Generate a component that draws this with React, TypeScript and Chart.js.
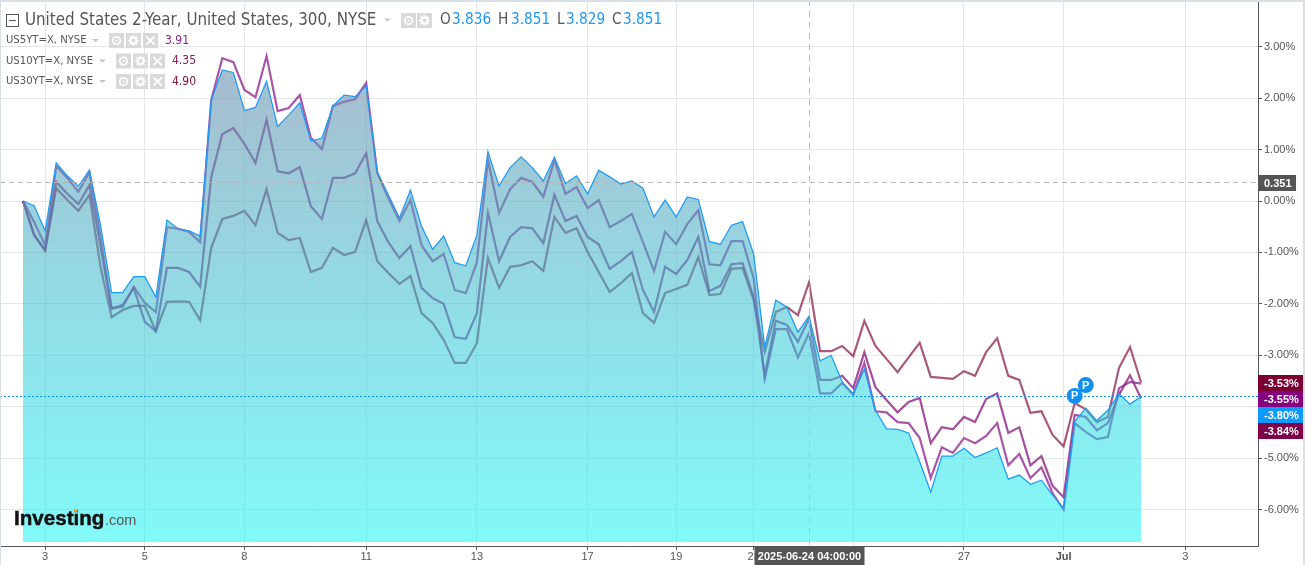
import React, { useEffect, useRef } from "react";
import { Chart, registerables } from "chart.js";

Chart.register(...registerables);

const us2y = [0,-0.09,-0.58,0.74,0.49,0.29,0.60,-0.47,-1.78,-1.78,-1.47,-1.47,-1.87,-0.37,-0.54,-0.58,-0.68,1.96,2.55,2.50,1.76,1.82,2.33,1.45,1.67,1.91,1.17,1.22,1.85,2.06,2.03,2.24,0.57,0.12,-0.33,0.21,-0.49,-0.94,-0.68,-1.20,-1.26,-0.66,0.96,0.29,0.65,0.86,0.65,0.39,0.85,0.34,0.49,0.14,0.60,0.47,0.33,0.39,0.25,-0.31,0.02,-0.31,0.08,0.03,-0.79,-0.84,-0.47,-0.40,-1.03,-2.84,-1.93,-2.06,-2.55,-2.24,-3.11,-3.00,-3.52,-3.75,-3.27,-4.07,-4.43,-4.44,-4.51,-5.07,-5.66,-4.96,-4.96,-4.81,-4.99,-4.90,-4.80,-5.41,-5.33,-5.51,-5.43,-5.72,-5.97,-4.29,-4.03,-4.27,-4.07,-3.75,-3.95,-3.80];
const us5y = [0,-0.41,-0.86,0.68,0.45,0.18,0.56,-0.70,-2.08,-2.06,-1.67,-1.98,-2.16,-0.51,-0.54,-0.60,-0.80,1.96,2.78,2.70,2.16,2.02,2.82,1.75,1.81,2.06,1.23,1.01,1.85,1.93,1.98,2.30,0.54,0.06,-0.39,0.02,-0.86,-1.17,-1.03,-1.73,-1.79,-1.19,0.80,-0.23,0.23,0.45,0.37,0.08,0.80,0.14,0.27,-0.14,0.02,-0.51,-0.39,-0.25,-0.80,-1.36,-0.60,-0.84,-0.45,-0.18,-1.23,-1.25,-0.78,-0.78,-1.50,-3.46,-2.49,-2.49,-3.04,-2.57,-3.74,-3.74,-3.54,-3.77,-3.15,-4.09,-4.11,-4.30,-4.32,-4.61,-5.39,-4.79,-4.90,-4.61,-4.71,-4.57,-4.32,-5.14,-4.92,-5.39,-5.18,-5.68,-6.01,-4.32,-4.49,-4.63,-4.59,-3.64,-3.52,-3.55];
const us10y = [0,-0.66,-0.95,0.37,0.14,-0.06,0.31,-0.89,-2.10,-2.02,-1.69,-2.35,-2.53,-1.30,-1.30,-1.38,-1.67,0.47,1.30,1.42,1.11,0.74,1.58,0.58,0.54,0.66,-0.10,-0.35,0.45,0.45,0.54,0.93,-0.39,-0.80,-1.11,-0.88,-1.69,-1.89,-2.00,-2.65,-2.68,-2.18,-0.23,-1.17,-0.70,-0.51,-0.53,-0.82,0.12,-0.39,-0.29,-0.70,-0.84,-1.32,-1.17,-0.99,-1.73,-2.16,-1.28,-1.42,-1.15,-0.70,-1.75,-1.65,-1.23,-1.21,-1.87,-3.39,-2.33,-2.41,-2.74,-2.28,-3.48,-3.48,-3.40,-3.64,-2.94,-3.62,-3.87,-4.11,-3.91,-3.83,-4.71,-4.40,-4.44,-4.20,-4.30,-3.85,-3.74,-4.51,-4.40,-5.14,-4.96,-5.54,-5.76,-4.16,-4.20,-4.46,-4.32,-3.77,-3.39,-3.84];
const us30y = [0,-0.66,-0.97,0.25,0.02,-0.19,0.12,-1.28,-2.26,-2.12,-2.04,-2.04,-2.53,-1.96,-1.95,-1.96,-2.32,-0.91,-0.35,-0.29,-0.19,-0.47,0.23,-0.62,-0.76,-0.72,-1.38,-1.30,-0.91,-1.05,-0.99,-0.37,-1.17,-1.40,-1.61,-1.46,-2.18,-2.37,-2.70,-3.15,-3.15,-2.76,-1.11,-1.69,-1.28,-1.25,-1.17,-1.36,-0.31,-0.62,-0.53,-0.99,-1.38,-1.77,-1.60,-1.40,-2.18,-2.37,-1.79,-1.71,-1.63,-1.09,-1.83,-1.81,-1.32,-1.30,-1.93,-2.94,-2.16,-2.06,-2.22,-1.58,-2.92,-2.92,-2.82,-3.02,-2.33,-2.82,-3.07,-3.33,-3.04,-2.76,-3.42,-3.44,-3.46,-3.31,-3.40,-2.94,-2.67,-3.40,-3.48,-4.12,-4.09,-4.55,-4.77,-3.93,-4.05,-4.30,-4.20,-3.25,-2.84,-3.53];

const xTickIndex = [2,11,20,31,41,51,59,66,75,85,94,105];
const xTickLabels = ["3","5","8","11","13","17","19","23","25","27","Jul","3"];
const yTicks = [3,2,1,0,-1,-2,-3,-4,-5,-6];

const seriesNames = ["US5YT=X, NYSE","US10YT=X, NYSE","US30YT=X, NYSE"];
const seriesLast = ["3.91","4.35","4.90"];
const title = "United States 2-Year, United States, 300, NYSE";
const ohlcKeys = ["O","H","L","C"];
const ohlcValues = ["3.836","3.851","3.829","3.851"];
const currentLevel = 0.351;
const crosshairIndex = 71;
const crosshairLabel = "2025-06-24 04:00:00";
const priceTags = ["-3.53%","-3.55%","-3.80%","-3.84%"];
const lastChange = -3.8;
const eventMarkers = [[95,-3.79],[96,-3.58]];

const fillBase = -6.63;
const xRange = [-2.08, 111.56];
const yRange = [-6.71, 3.91];

const SANS = '"Liberation Sans", Arial, sans-serif';
const UI = '"DejaVu Sans Condensed", "DejaVu Sans", sans-serif';

function toPoints(values: number[]) {
  return values.map((y, x) => ({ x, y }));
}

function iconBox(c: CanvasRenderingContext2D, x: number, y: number, s: number, kind: string) {
  c.fillStyle = "#d9d9d9";
  c.fillRect(x, y, s, s);
  c.strokeStyle = "#ffffff";
  c.fillStyle = "#ffffff";
  const cx = x + s / 2;
  const cy = y + s / 2;
  if (kind === "eye") {
    c.lineWidth = 1.6;
    c.beginPath();
    c.arc(cx, cy, s * 0.25, 0, Math.PI * 2);
    c.stroke();
    c.beginPath();
    c.arc(cx, cy, 1, 0, Math.PI * 2);
    c.fill();
  } else if (kind === "gear") {
    c.lineWidth = 2;
    c.beginPath();
    c.arc(cx, cy, s * 0.2, 0, Math.PI * 2);
    c.stroke();
    c.lineWidth = 1.6;
    for (let a = 0; a < 8; a++) {
      const t = (a * Math.PI) / 4;
      c.beginPath();
      c.moveTo(cx + Math.cos(t) * s * 0.22, cy + Math.sin(t) * s * 0.22);
      c.lineTo(cx + Math.cos(t) * s * 0.36, cy + Math.sin(t) * s * 0.36);
      c.stroke();
    }
  } else {
    c.lineWidth = 1.8;
    c.beginPath();
    c.moveTo(cx - s * 0.27, cy - s * 0.27);
    c.lineTo(cx + s * 0.27, cy + s * 0.27);
    c.moveTo(cx + s * 0.27, cy - s * 0.27);
    c.lineTo(cx - s * 0.27, cy + s * 0.27);
    c.stroke();
  }
}

function caret(c: CanvasRenderingContext2D, x: number, y: number) {
  c.fillStyle = "#c4c4c4";
  c.beginPath();
  c.moveTo(x, y - 1.5);
  c.lineTo(x + 7, y - 1.5);
  c.lineTo(x + 3.5, y + 1.5);
  c.closePath();
  c.fill();
}

const overlay = {
  id: "overlay",
  afterDraw(chart: any) {
    const c: CanvasRenderingContext2D = chart.ctx;
    const xs = chart.scales.x;
    const ys = chart.scales.y;
    const area = chart.chartArea;
    c.save();
    c.textBaseline = "middle";

    // level lines
    c.lineWidth = 1;
    c.setLineDash([5, 4]);
    c.strokeStyle = "#b5b5b5";
    const ly = Math.round(ys.getPixelForValue(currentLevel)) - 0.5;
    c.beginPath();
    c.moveTo(0, ly);
    c.lineTo(area.right, ly);
    c.stroke();
    const cx = Math.round(xs.getPixelForValue(crosshairIndex)) + 0.5;
    c.setLineDash([6, 5]);
    c.strokeStyle = "#bdbdbd";
    c.beginPath();
    c.moveTo(cx, 0);
    c.lineTo(cx, area.bottom);
    c.stroke();
    c.setLineDash([2, 2]);
    c.strokeStyle = "#0d96ff";
    const py = Math.round(ys.getPixelForValue(lastChange)) + 0.5;
    c.beginPath();
    c.moveTo(0, py);
    c.lineTo(area.right, py);
    c.stroke();
    c.setLineDash([]);

    // event markers
    eventMarkers.forEach(([i, v]) => {
      const mx = xs.getPixelForValue(i);
      const my = ys.getPixelForValue(v);
      c.fillStyle = "#0f8ff0";
      c.beginPath();
      c.arc(mx, my, 8, 0, Math.PI * 2);
      c.fill();
      c.fillStyle = "#ffffff";
      c.font = "bold 11px " + SANS;
      c.textAlign = "center";
      c.fillText("P", mx, my + 0.5);
    });

    // header
    c.textAlign = "left";
    c.strokeStyle = "#555555";
    c.lineWidth = 1;
    c.strokeRect(6.5, 14.5, 12, 12);
    c.beginPath();
    c.moveTo(9, 20.5);
    c.lineTo(16, 20.5);
    c.stroke();
    c.fillStyle = "#555555";
    c.font = "16.8px " + UI;
    c.fillText(title, 25, 20.5);
    caret(c, 384, 20);
    iconBox(c, 401, 13, 15, "eye");
    iconBox(c, 417, 13, 15, "gear");
    const keyX = [440, 498, 557, 612];
    const valX = [452, 511, 566, 623];
    c.font = "15.2px " + UI;
    ohlcKeys.forEach((k, i) => {
      c.fillStyle = "#555555";
      c.fillText(k, keyX[i], 20.5);
      c.fillStyle = "#1e96f5";
      c.fillText(ohlcValues[i], valX[i], 20.5);
    });

    const rowY = [40.5, 61, 81.5];
    const rowBox = [109, 116, 116];
    const rowVal = [165, 172, 172];
    const rowColor = ["#8d1e8d", "#8b1a60", "#7a0f3f"];
    seriesNames.forEach((n, i) => {
      c.font = "11.2px " + UI;
      c.fillStyle = "#555555";
      c.fillText(n, 6, rowY[i]);
      caret(c, rowBox[i] - 17, rowY[i]);
      iconBox(c, rowBox[i], rowY[i] - 7.5, 15, "eye");
      iconBox(c, rowBox[i] + 17, rowY[i] - 7.5, 15, "gear");
      iconBox(c, rowBox[i] + 34, rowY[i] - 7.5, 15, "x");
      c.font = "12px " + UI;
      c.fillStyle = rowColor[i];
      c.fillText(seriesLast[i], rowVal[i], rowY[i]);
    });

    // price tags
    const tagBg = ["#7a0034", "#85007f", "#0f98ff", "#7d0049"];
    const tagTop = [375, 391, 407, 423];
    c.font = "bold 11px " + SANS;
    priceTags.forEach((t, i) => {
      c.fillStyle = tagBg[i];
      c.fillRect(area.right, tagTop[i], 45, 16);
      c.fillStyle = "#ffffff";
      c.fillText(t, area.right + 6, tagTop[i] + 8.5);
    });
    c.fillStyle = "#555555";
    c.fillRect(area.right, 175, 38, 16);
    c.fillStyle = "#ffffff";
    c.fillText(currentLevel.toFixed(3), area.right + 6, 183.5);

    // crosshair date tag
    c.fillStyle = "#555555";
    c.fillRect(cx - 55, area.bottom + 1, 110, 18);
    c.fillStyle = "#ffffff";
    c.textAlign = "center";
    c.font = "bold 11px " + SANS;
    c.fillText(crosshairLabel, cx, area.bottom + 11);

    // wordmark
    c.textAlign = "left";
    c.fillStyle = "#111111";
    c.strokeStyle = "#111111";
    c.lineWidth = 0.5;
    c.font = "bold 21px " + SANS;
    c.save();
    c.translate(14, 519);
    c.scale(0.98, 1);
    c.fillText("Investing", 0, 0);
    c.strokeText("Investing", 0, 0);
    c.restore();
    c.fillStyle = "#555555";
    c.font = "14.5px " + SANS;
    c.fillText(".com", 105, 521);
    c.fillStyle = "#f2a51e";
    c.beginPath();
    c.arc(76, 510.5, 1.8, 0, Math.PI * 2);
    c.fill();

    // frame
    c.fillStyle = "#d8dfe6";
    c.fillRect(0, 0, 1305, 2);
    c.fillRect(0, 0, 1, 565);
    c.fillRect(1303, 0, 2, 565);
    c.restore();
  },
};

export default function App() {
  const ref = useRef<HTMLCanvasElement>(null);
  useEffect(() => {
    const canvas = ref.current!;
    const ctx = canvas.getContext("2d")!;
    const areaFill = ctx.createLinearGradient(0, 60, 0, 542);
    areaFill.addColorStop(0, "rgba(110,140,172,0.6)");
    areaFill.addColorStop(1, "rgba(5,243,243,0.5)");
    const chart = new Chart(canvas, {
      type: "line",
      data: {
        datasets: [
          {
            label: "US2YT=X",
            data: toPoints(us2y),
            borderColor: "#1e9bf5",
            borderWidth: 1.25,
            backgroundColor: areaFill,
            fill: { target: { value: fillBase } },
            order: 0,
          },
          {
            label: "US5YT=X",
            data: toPoints(us5y),
            borderColor: "rgba(140,30,140,0.75)",
            borderWidth: 2.2,
            fill: false,
            order: 1,
          },
          {
            label: "US10YT=X",
            data: toPoints(us10y),
            borderColor: "rgba(135,20,125,0.75)",
            borderWidth: 2.2,
            fill: false,
            order: 2,
          },
          {
            label: "US30YT=X",
            data: toPoints(us30y),
            borderColor: "rgba(130,10,60,0.68)",
            borderWidth: 2.2,
            fill: false,
            order: 3,
          },
        ],
      },
      options: {
        responsive: false,
        animation: false,
        layout: { padding: 0 },
        elements: { point: { radius: 0 }, line: { tension: 0, borderJoinStyle: "miter" } },
        plugins: { legend: { display: false }, tooltip: { enabled: false } },
        scales: {
          x: {
            type: "linear",
            min: xRange[0],
            max: xRange[1],
            afterBuildTicks: (s: any) => {
              s.ticks = xTickIndex.map((value) => ({ value }));
            },
            afterFit: (s: any) => {
              s.height = 19;
              s.paddingLeft = 0;
              s.paddingRight = 0;
            },
            grid: { color: "#e6e6e6", tickColor: "#555555", tickLength: 4 },
            border: { color: "#555555" },
            ticks: {
              autoSkip: false,
              maxRotation: 0,
              padding: 0,
              color: "#555555",
              font: (ctx: any) => ({
                family: SANS,
                size: 11,
                weight: xTickLabels[xTickIndex.indexOf(ctx.tick?.value)] === "Jul" ? "bold" : "normal",
              }),
              callback: (v: any) => xTickLabels[xTickIndex.indexOf(v)],
            },
          },
          y: {
            type: "linear",
            position: "right",
            min: yRange[0],
            max: yRange[1],
            afterBuildTicks: (s: any) => {
              s.ticks = yTicks.map((value) => ({ value }));
            },
            afterFit: (s: any) => {
              s.width = 47;
              s.paddingTop = 0;
              s.paddingBottom = 0;
            },
            grid: { color: "#e6e6e6", tickColor: "#555555", tickLength: 4 },
            border: { color: "#555555" },
            ticks: {
              padding: 2,
              color: "#555555",
              font: { family: SANS, size: 11 },
              callback: (v: any) => Number(v).toFixed(2) + "%",
            },
          },
        },
      },
      plugins: [overlay],
    } as any);
    return () => chart.destroy();
  }, []);
  return (
    <div style={{ position: "absolute", left: 0, top: 0, width: 1305, height: 565, background: "#fff" }}>
      <canvas ref={ref} width={1305} height={565} style={{ display: "block" }} />
    </div>
  );
}
